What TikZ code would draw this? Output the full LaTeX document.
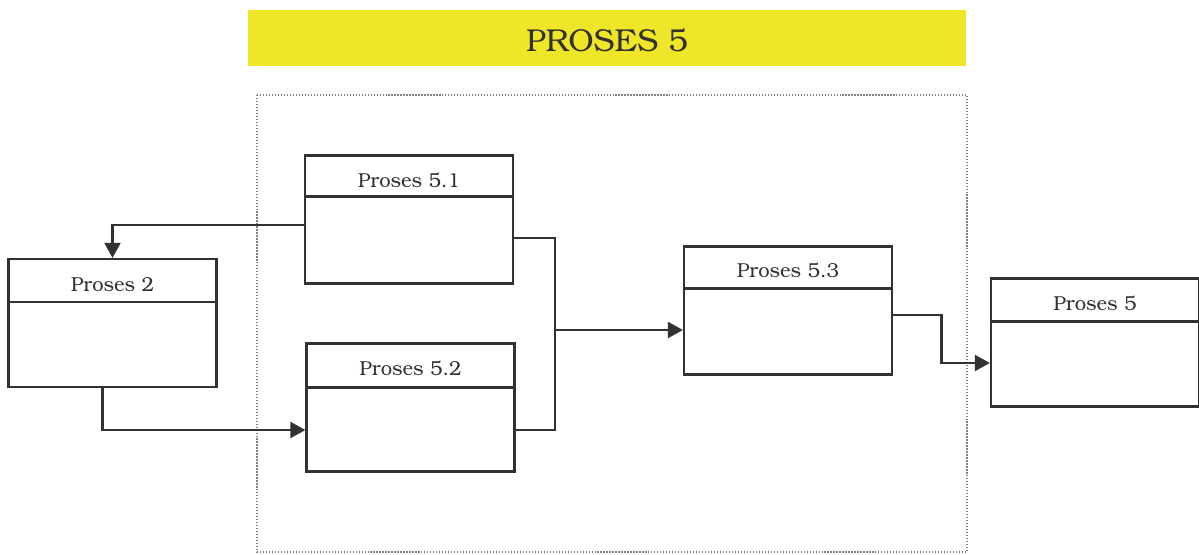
\documentclass[tikz,border=0pt]{standalone}
\usepackage[T1]{fontenc}
\usepackage{bookman}
\usetikzlibrary{arrows.meta,calc}

\definecolor{titleyellow}{RGB}{240,230,40}
\definecolor{linegray}{RGB}{50,50,50}

\tikzset{
    procbox/.style={draw=linegray,line width=1.3pt,minimum width=4.16cm,minimum height=2.56cm,inner sep=0pt},
    proclabel/.style={font=\fontsize{11.5}{13}\selectfont,text=linegray},
    arr/.style={draw=linegray,line width=1.3pt,-{Triangle[width=0.32cm,length=0.3cm]}},
    conn/.style={draw=linegray,line width=1.3pt}
}

\begin{document}
\begin{tikzpicture}[x=0.02cm,y=-0.02cm]
    \useasboundingbox (0,0) rectangle (1199,554);

    % title bar
    \fill[titleyellow] (248,10) rectangle (966,66);
    \node[font=\fontsize{18}{20}\selectfont,text=linegray] (title) at (607,41) {PROSES 5};

    % dotted frame
    \draw[gray,densely dotted,line width=0.7pt] (257,95) rectangle (967,552);

    % boxes
    \node[procbox] (p2) at (112.5,323) {};
    \node[procbox] (p51) at (409,219.5) {};
    \node[procbox] (p52) at (410.5,407.5) {};
    \node[procbox] (p53) at (788,310.5) {};
    \node[procbox] (p5) at (1095,342.5) {};

    % header lines
    \draw[conn] ([yshift=-0.88cm]p2.north west) -- ([yshift=-0.88cm]p2.north east);
    \draw[conn] ([yshift=-0.84cm]p51.north west) -- ([yshift=-0.84cm]p51.north east);
    \draw[conn] ([yshift=-0.9cm]p52.north west) -- ([yshift=-0.9cm]p52.north east);
    \draw[conn] ([yshift=-0.86cm]p53.north west) -- ([yshift=-0.86cm]p53.north east);
    \draw[conn] ([yshift=-0.88cm]p5.north west) -- ([yshift=-0.88cm]p5.north east);

    % labels
    \node[proclabel] (p2-t) at ([yshift=-0.53cm]p2.north) {Proses 2};
    \node[proclabel] (p51-t) at ([yshift=-0.52cm]p51.north) {Proses 5.1};
    \node[proclabel] (p52-t) at ([yshift=-0.53cm]p52.north) {Proses 5.2};
    \node[proclabel] (p53-t) at ([yshift=-0.5cm]p53.north) {Proses 5.3};
    \node[proclabel] (p5-t) at ([yshift=-0.52cm]p5.north) {Proses 5};

    % connectors
    \coordinate (m) at (555,330);
    \draw[arr] ([yshift=-0.11cm]p51.west) -| (p2.north);
    \draw[arr] ([xshift=-0.2cm]p2.south) |- ([yshift=-0.45cm]p52.west);
    \draw[conn] ([yshift=-0.37cm]p51.east) -| (m);
    \draw[conn] ([yshift=-0.45cm]p52.east) -| (m);
    \draw[arr] (m) -- (m -| p53.west);
    \coordinate (a) at ([yshift=-0.09cm]p53.east);
    \coordinate (b) at ([yshift=-0.41cm]p5.west);
    \draw[arr] (a) -| ($(a)!0.5!(b)$) |- (b);
\end{tikzpicture}
\end{document}
